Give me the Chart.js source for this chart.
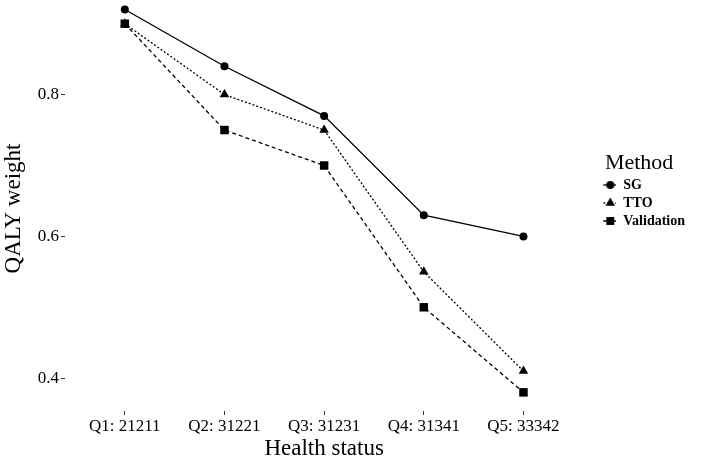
<!DOCTYPE html>
<html>
<head>
<meta charset="utf-8">
<script src="https://cdn.jsdelivr.net/npm/chart.js@4/dist/chart.umd.min.js"></script>
<style>
  html, body { margin: 0; padding: 0; background: #fff; }
  #wrap { width: 709px; height: 463px; }
</style>
</head>
<body>
<div id="wrap"><canvas id="chart" width="709" height="463"></canvas></div>
<script>
// categories on the x axis
const healthStates = ['Q1: 21211', 'Q2: 31221', 'Q3: 31231', 'Q4: 31341', 'Q5: 33342'];
// QALY weights per method
const sgValues = [0.92, 0.84, 0.77, 0.63, 0.60];
const ttoValues = [0.90, 0.80, 0.75, 0.55, 0.41];
const validationValues = [0.90, 0.75, 0.70, 0.50, 0.38];
const yTicks = [0.4, 0.6, 0.8];

const SERIF = '"Liberation Serif", "Times New Roman", serif';
const INK = '#000';

// turn a list of values into {x, y} points on the index scale
function toPoints(vals) {
  return vals.map((v, i) => ({ x: i, y: v }));
}

// legend key: short line segment with the marker, pushed to the right
// side of a wider transparent canvas so the text lands where it should
function makeIcon(style, dash, r) {
  const c = document.createElement('canvas');
  c.width = 29; c.height = 14;
  const g = c.getContext('2d');
  const cx = 23, cy = 7;
  g.strokeStyle = INK; g.fillStyle = INK; g.lineWidth = 1.3;
  g.setLineDash(dash);
  g.beginPath(); g.moveTo(16, cy); g.lineTo(29, cy); g.stroke();
  g.setLineDash([]);
  g.beginPath();
  if (style === 'circle') {
    g.arc(cx, cy, r, 0, Math.PI * 2);
  } else if (style === 'triangle') {
    g.moveTo(cx, cy - r); g.lineTo(cx + r * 0.87, cy + r * 0.5); g.lineTo(cx - r * 0.87, cy + r * 0.5); g.closePath();
  } else {
    g.rect(cx - r * 0.72, cy - r * 0.72, r * 1.44, r * 1.44);
  }
  g.fill();
  return c;
}

const series = [
  { label: 'SG', data: sgValues, style: 'circle', radius: 4, dash: [] },
  { label: 'TTO', data: ttoValues, style: 'triangle', radius: 5.5, dash: [2, 2] },
  { label: 'Validation', data: validationValues, style: 'rect', radius: 6, dash: [4, 3] }
];

const icons = [
  makeIcon('circle', [], 4),
  makeIcon('triangle', [2, 2], 5.5),
  makeIcon('rect', [3, 2], 5.5)
];

const ctx = document.getElementById('chart').getContext('2d');
new Chart(ctx, {
  type: 'line',
  data: {
    datasets: series.map(s => ({
      label: s.label,
      data: toPoints(s.data),
      borderColor: INK,
      backgroundColor: INK,
      borderWidth: 1.3,
      borderDash: s.dash,
      pointStyle: s.style,
      pointRadius: s.radius,
      pointBorderWidth: 0,
      pointBackgroundColor: INK,
      tension: 0,
      clip: false
    }))
  },
  options: {
    responsive: false,
    animation: false,
    layout: { padding: { left: 0, right: 14, top: 0, bottom: 0 } },
    plugins: {
      tooltip: { enabled: false },
      legend: {
        position: 'right',
        align: 'start',
        title: {
          display: true,
          text: 'Method',
          position: 'center',
          color: INK,
          font: { family: SERIF, size: 22, lineHeight: 1 },
          padding: { top: 152, bottom: 0 }
        },
        labels: {
          color: INK,
          font: { family: SERIF, size: 14, weight: 'bold' },
          usePointStyle: true,
          pointStyleWidth: 29,
          boxWidth: 29,
          padding: 4,
          generateLabels: chart => chart.data.datasets.map((d, i) => ({
            text: d.label,
            pointStyle: icons[i],
            fillStyle: INK,
            strokeStyle: INK,
            lineWidth: 0,
            fontColor: INK,
            datasetIndex: i
          }))
        }
      }
    },
    scales: {
      x: {
        type: 'linear',
        min: -0.6,
        max: 4.6,
        afterBuildTicks: axis => { axis.ticks = healthStates.map((_, i) => ({ value: i })); },
        afterFit: axis => { axis.height = 52; },
        border: { display: false },
        grid: { drawOnChartArea: false, drawTicks: true, tickLength: 4, color: '#333' },
        ticks: {
          color: INK,
          padding: 1,
          maxRotation: 0,
          autoSkip: false,
          font: { family: SERIF, size: 17 },
          callback: v => healthStates[v]
        },
        title: {
          display: true,
          text: 'Health status',
          color: INK,
          font: { family: SERIF, size: 23 },
          padding: { top: 0, bottom: 0 }
        }
      },
      y: {
        min: 0.3537,
        max: 0.925,
        afterBuildTicks: axis => { axis.ticks = yTicks.map(v => ({ value: v })); },
        afterFit: axis => { axis.width = 65; axis.paddingTop = 0; axis.paddingBottom = 0; },
        border: { display: false },
        grid: { drawOnChartArea: false, drawTicks: true, tickLength: 4, color: '#333' },
        ticks: {
          color: INK,
          padding: 2,
          font: { family: SERIF, size: 17 },
          callback: v => v.toFixed(1)
        },
        title: {
          display: true,
          text: 'QALY weight',
          color: INK,
          font: { family: SERIF, size: 23 },
          padding: { top: 0, bottom: 0 }
        }
      }
    }
  }
});
</script>
</body>
</html>
